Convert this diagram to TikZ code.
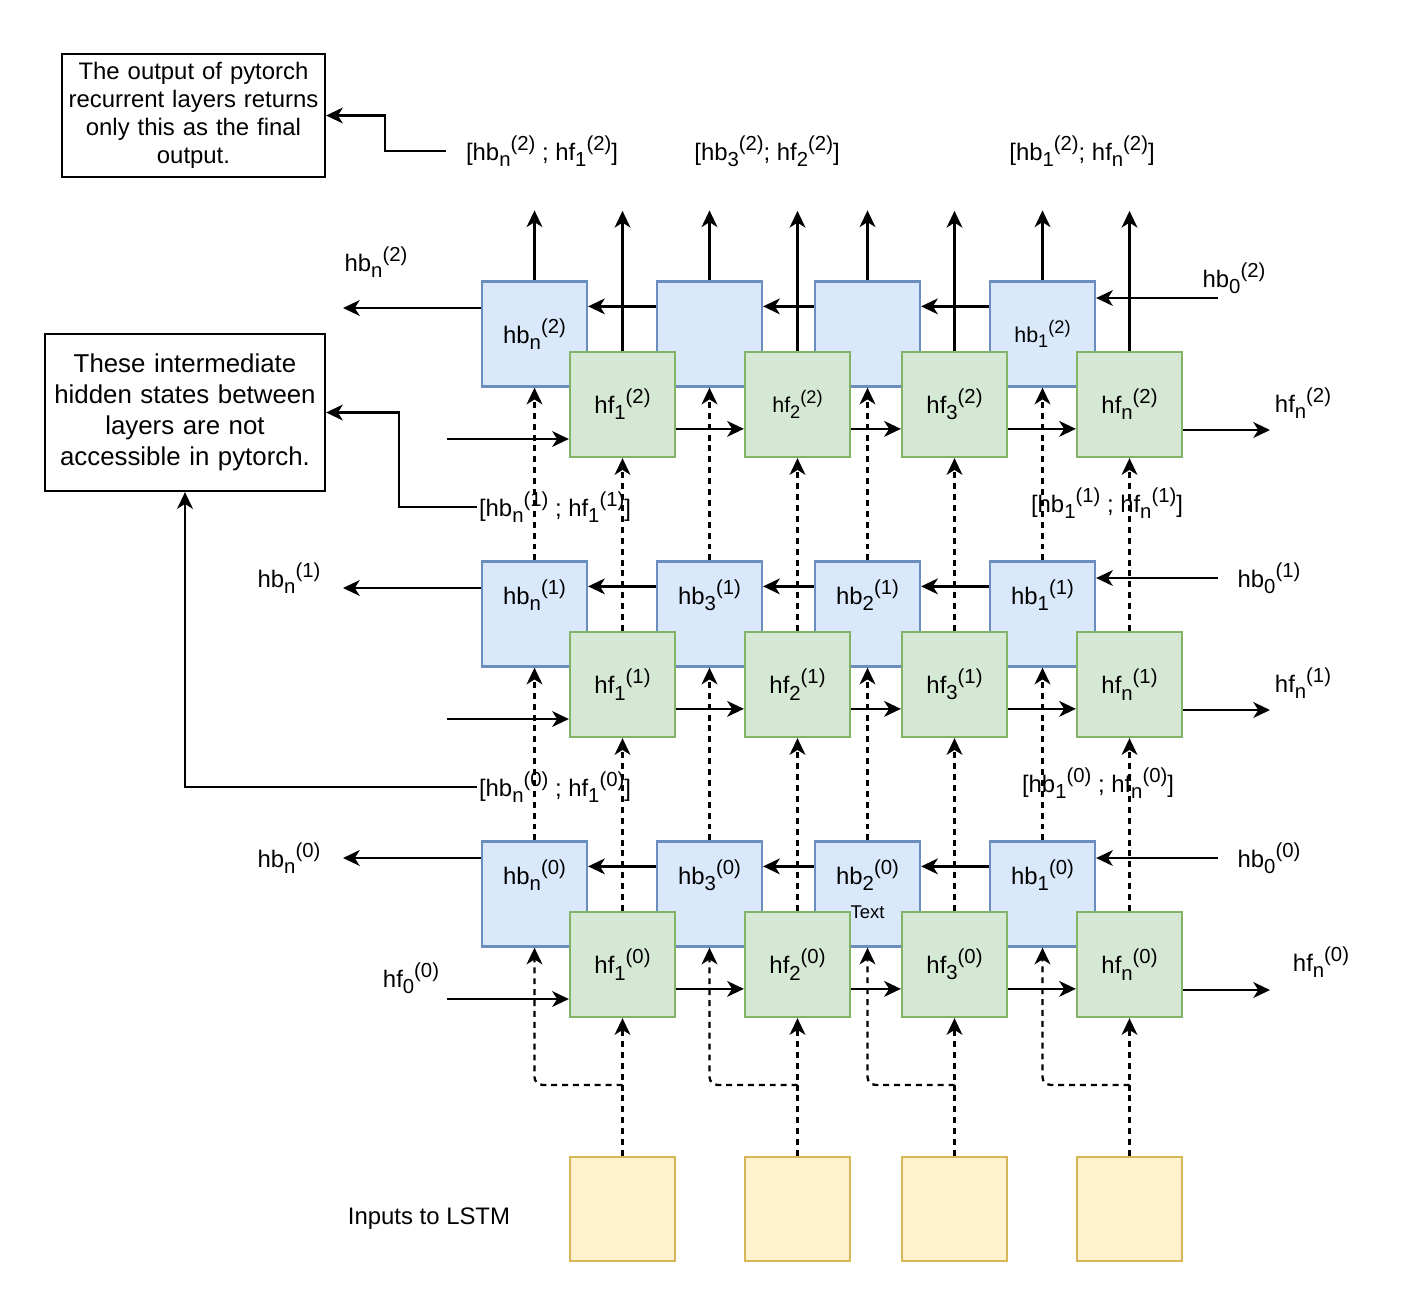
\documentclass[tikz,border=0pt]{standalone}
\usepackage{fontspec}
\setmainfont{Liberation Sans}
\usepackage{graphicx}
\usetikzlibrary{arrows.meta,calc}

\definecolor{hbfill}{HTML}{DAE8FC}
\definecolor{hbline}{HTML}{6C8EBF}
\definecolor{hffill}{HTML}{D5E8D4}
\definecolor{hfline}{HTML}{82B366}
\definecolor{infill}{HTML}{FFF2CC}
\definecolor{inline}{HTML}{D6B656}

% hidden state name with subscript and superscript
\newcommand{\hs}[3]{#1\raisebox{-0.26em}{\scalebox{0.85}{#2}}\raisebox{0.42em}{\scalebox{0.85}{(#3)}}}

\begin{document}
\begin{tikzpicture}[x=0.02cm,y=-0.02cm,
  every node/.style={font=\fontsize{13.6}{16}\selectfont},
  smalltxt/.style={font=\fontsize{12.2}{14}\selectfont},
  hbbox/.style={draw=hbline,fill=hbfill,line width=1.3pt,minimum width=2.1cm,minimum height=2.1cm,inner sep=0pt},
  hfbox/.style={draw=hfline,fill=hffill,line width=1.3pt,minimum width=2.1cm,minimum height=2.1cm,inner sep=0pt},
  inbox/.style={draw=inline,fill=infill,line width=1.3pt,minimum width=2.1cm,minimum height=2.08cm,inner sep=0pt},
  note/.style={draw=black,line width=1.3pt,align=center,inner sep=0pt},
  txt/.style={inner sep=1pt},
  arr/.style={line width=1.3pt,-{Stealth[length=9.5pt,width=9pt,inset=2.8pt]}},
  dasharr/.style={arr,dash pattern=on 3.4pt off 2.8pt}]
\useasboundingbox (0,0) rectangle (1419,1313);

% Notes
\node[note,text width=5.1cm,minimum width=5.26cm,minimum height=2.46cm] (note1) at (193.5,115.5)
  {The output of pytorch\\recurrent layers returns\\only this as the final\\output.};
\node[note,text width=5.4cm,minimum width=5.6cm,minimum height=3.14cm,font=\fontsize{14.7}{17.7}\selectfont] (note2) at (185,412.5)
  {These intermediate\\hidden states between\\layers are not\\accessible in pytorch.};

% Backward cells
\node[hbbox] (b21) at (534.5,334) {\hs{hb}{n}{2}};
\node[hbbox] (b22) at (709.5,334) {};
\node[hbbox] (b23) at (867.5,334) {};
\node[hbbox,smalltxt] (b24) at (1042.5,334) {\hs{hb}{1}{2}};

\node[hbbox,label={[yshift=0.38cm]center:\hs{hb}{n}{1}}] (b11) at (534.5,614) {};
\node[hbbox,label={[yshift=0.38cm]center:\hs{hb}{3}{1}}] (b12) at (709.5,614) {};
\node[hbbox,label={[yshift=0.38cm]center:\hs{hb}{2}{1}}] (b13) at (867.5,614) {};
\node[hbbox,label={[yshift=0.38cm]center:\hs{hb}{1}{1}}] (b14) at (1042.5,614) {};

\node[hbbox,label={[yshift=0.38cm]center:\hs{hb}{n}{0}}] (b01) at (534.5,894) {};
\node[hbbox,label={[yshift=0.38cm]center:\hs{hb}{3}{0}}] (b02) at (709.5,894) {};
\node[hbbox,label={[yshift=0.38cm]center:\hs{hb}{2}{0}},
  label={[yshift=-0.36cm,font=\fontsize{10.5}{12}\selectfont]center:Text}] (b03) at (867.5,894) {};
\node[hbbox,label={[yshift=0.38cm]center:\hs{hb}{1}{0}}] (b04) at (1042.5,894) {};

% Forward cells
\node[hfbox] (g21) at (622.5,404.5) {\hs{hf}{1}{2}};
\node[hfbox,smalltxt] (g22) at (797.5,404.5) {\hs{hf}{2}{2}};
\node[hfbox] (g23) at (954.5,404.5) {\hs{hf}{3}{2}};
\node[hfbox] (g24) at (1129.5,404.5) {\hs{hf}{n}{2}};

\node[hfbox] (g11) at (622.5,684.5) {\hs{hf}{1}{1}};
\node[hfbox] (g12) at (797.5,684.5) {\hs{hf}{2}{1}};
\node[hfbox] (g13) at (954.5,684.5) {\hs{hf}{3}{1}};
\node[hfbox] (g14) at (1129.5,684.5) {\hs{hf}{n}{1}};

\node[hfbox] (g01) at (622.5,964.5) {\hs{hf}{1}{0}};
\node[hfbox] (g02) at (797.5,964.5) {\hs{hf}{2}{0}};
\node[hfbox] (g03) at (954.5,964.5) {\hs{hf}{3}{0}};
\node[hfbox] (g04) at (1129.5,964.5) {\hs{hf}{n}{0}};

% Inputs
\node[inbox] (in1) at (622.5,1209) {};
\node[inbox] (in2) at (797.5,1209) {};
\node[inbox] (in3) at (954.5,1209) {};
\node[inbox] (in4) at (1129.5,1209) {};
\node[txt] (inlbl) at (429,1219) {Inputs to LSTM};

% Free ends
\coordinate (hbout2) at (343,308);
\coordinate (hbout1) at (343,588);
\coordinate (hbout0) at (343,858);
\coordinate (hbin2) at (1218,298);
\coordinate (hbin1) at (1218,578);
\coordinate (hbin0) at (1218,858);
\coordinate (hfin2) at (447,439);
\coordinate (hfin1) at (447,719);
\coordinate (hfin0) at (447,999);
\coordinate (hfout2) at (1270,430);
\coordinate (hfout1) at (1270,710);
\coordinate (hfout0) at (1270,990);

% Outputs of the top layer
\draw[arr] (b21.north) -- ++(0,-70);
\draw[arr] (b22.north) -- ++(0,-70);
\draw[arr] (b23.north) -- ++(0,-70);
\draw[arr] (b24.north) -- ++(0,-70);
\draw[arr] (g21.north) -- ++(0,-140);
\draw[arr] (g22.north) -- ++(0,-140);
\draw[arr] (g23.north) -- ++(0,-140);
\draw[arr] (g24.north) -- ++(0,-140);

% Layer 2
\draw[arr] (hbin2) -- (hbin2 -| b24.east);
\draw[arr] ($(b24.north west)+(0,26)$) -- ($(b23.north east)+(0,26)$);
\draw[arr] ($(b23.north west)+(0,26)$) -- ($(b22.north east)+(0,26)$);
\draw[arr] ($(b22.north west)+(0,26)$) -- ($(b21.north east)+(0,26)$);
\draw[arr] (b21.west |- hbout2) -- (hbout2);
\draw[arr] (hfin2) -- (hfin2 -| g21.west);
\draw[arr] ($(g21.north east)+(0,78)$) -- ($(g22.north west)+(0,78)$);
\draw[arr] ($(g22.north east)+(0,78)$) -- ($(g23.north west)+(0,78)$);
\draw[arr] ($(g23.north east)+(0,78)$) -- ($(g24.north west)+(0,78)$);
\draw[arr] (g24.east |- hfout2) -- (hfout2);

% Layer 1
\draw[arr] (hbin1) -- (hbin1 -| b14.east);
\draw[arr] ($(b14.north west)+(0,26)$) -- ($(b13.north east)+(0,26)$);
\draw[arr] ($(b13.north west)+(0,26)$) -- ($(b12.north east)+(0,26)$);
\draw[arr] ($(b12.north west)+(0,26)$) -- ($(b11.north east)+(0,26)$);
\draw[arr] (b11.west |- hbout1) -- (hbout1);
\draw[arr] (hfin1) -- (hfin1 -| g11.west);
\draw[arr] ($(g11.north east)+(0,78)$) -- ($(g12.north west)+(0,78)$);
\draw[arr] ($(g12.north east)+(0,78)$) -- ($(g13.north west)+(0,78)$);
\draw[arr] ($(g13.north east)+(0,78)$) -- ($(g14.north west)+(0,78)$);
\draw[arr] (g14.east |- hfout1) -- (hfout1);

% Layer 0
\draw[arr] (hbin0) -- (hbin0 -| b04.east);
\draw[arr] ($(b04.north west)+(0,26)$) -- ($(b03.north east)+(0,26)$);
\draw[arr] ($(b03.north west)+(0,26)$) -- ($(b02.north east)+(0,26)$);
\draw[arr] ($(b02.north west)+(0,26)$) -- ($(b01.north east)+(0,26)$);
\draw[arr] (b01.west |- hbout0) -- (hbout0);
\draw[arr] (hfin0) -- (hfin0 -| g01.west);
\draw[arr] ($(g01.north east)+(0,78)$) -- ($(g02.north west)+(0,78)$);
\draw[arr] ($(g02.north east)+(0,78)$) -- ($(g03.north west)+(0,78)$);
\draw[arr] ($(g03.north east)+(0,78)$) -- ($(g04.north west)+(0,78)$);
\draw[arr] (g04.east |- hfout0) -- (hfout0);

% Between layers
\draw[dasharr] (b11.north) -- (b21.south);
\draw[dasharr] (b12.north) -- (b22.south);
\draw[dasharr] (b13.north) -- (b23.south);
\draw[dasharr] (b14.north) -- (b24.south);
\draw[dasharr] (g11.north) -- (g21.south);
\draw[dasharr] (g12.north) -- (g22.south);
\draw[dasharr] (g13.north) -- (g23.south);
\draw[dasharr] (g14.north) -- (g24.south);

\draw[dasharr] (b01.north) -- (b11.south);
\draw[dasharr] (b02.north) -- (b12.south);
\draw[dasharr] (b03.north) -- (b13.south);
\draw[dasharr] (b04.north) -- (b14.south);
\draw[dasharr] (g01.north) -- (g11.south);
\draw[dasharr] (g02.north) -- (g12.south);
\draw[dasharr] (g03.north) -- (g13.south);
\draw[dasharr] (g04.north) -- (g14.south);

% Inputs into layer 0
\draw[dasharr] (in1.north) -- (g01.south);
\draw[dasharr] (in2.north) -- (g02.south);
\draw[dasharr] (in3.north) -- (g03.south);
\draw[dasharr] (in4.north) -- (g04.south);
\draw[dasharr,rounded corners=4.5pt] ($(in1.north)+(0,-71)$) -| (b01.south);
\draw[dasharr,rounded corners=4.5pt] ($(in2.north)+(0,-71)$) -| (b02.south);
\draw[dasharr,rounded corners=4.5pt] ($(in3.north)+(0,-71)$) -| (b03.south);
\draw[dasharr,rounded corners=4.5pt] ($(in4.north)+(0,-71)$) -| (b04.south);

% Concatenated states
\node[txt] (top1) at (542,151) {[\hs{hb}{n}{2} ; \hs{hf}{1}{2}]};
\node[txt] (top2) at (767,151) {[\hs{hb}{3}{2}; \hs{hf}{2}{2}]};
\node[txt] (top3) at (1082,151) {[\hs{hb}{1}{2}; \hs{hf}{n}{2}]};
\node[txt] (mid1) at (555,507) {[\hs{hb}{n}{1} ; \hs{hf}{1}{1}]};
\node[txt] (mid1r) at (1107,503) {[\hs{hb}{1}{1} ; \hs{hf}{n}{1}]};
\node[txt] (mid0) at (555,787) {[\hs{hb}{n}{0} ; \hs{hf}{1}{0}]};
\node[txt] (mid0r) at (1098,783) {[\hs{hb}{1}{0} ; \hs{hf}{n}{0}]};

\draw[arr,shorten <=10pt] (top1.west) -- ++(-79,0) |- (note1.east);
\draw[arr] (mid1.west) -- ++(-78,0) |- (note2.east);
\draw[arr] (mid0.west) -| (note2.south);

% Side labels
\node[txt] (lhbn2) at (376,262) {\hs{hb}{n}{2}};
\node[txt] (lhb02) at (1234,278) {\hs{hb}{0}{2}};
\node[txt] (lhfn2) at (1303,403) {\hs{hf}{n}{2}};
\node[txt] (lhbn1) at (289,578) {\hs{hb}{n}{1}};
\node[txt] (lhb01) at (1269,578) {\hs{hb}{0}{1}};
\node[txt] (lhfn1) at (1303,683) {\hs{hf}{n}{1}};
\node[txt] (lhbn0) at (289,858) {\hs{hb}{n}{0}};
\node[txt] (lhb00) at (1269,858) {\hs{hb}{0}{0}};
\node[txt] (lhfn0) at (1321,962) {\hs{hf}{n}{0}};
\node[txt] (lhf00) at (411,978) {\hs{hf}{0}{0}};

\end{tikzpicture}
\end{document}
